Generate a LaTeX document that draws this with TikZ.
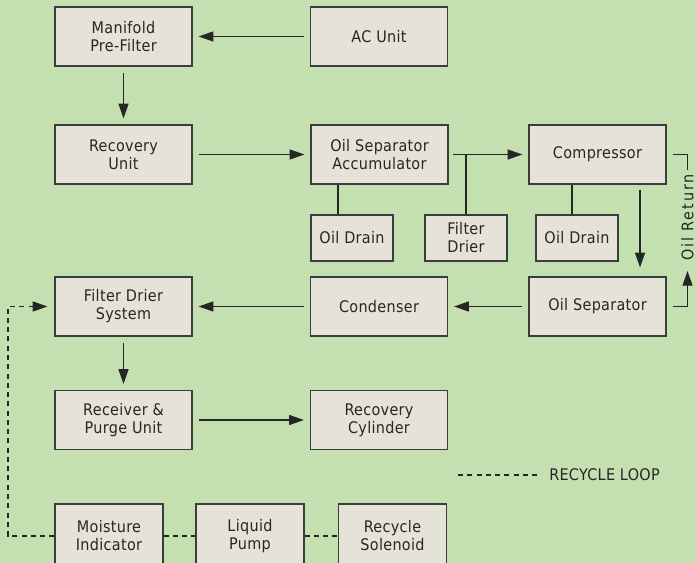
\documentclass[tikz,border=0pt]{standalone}
\usepackage{fontspec}
\setmainfont{DejaVu Sans Condensed}[LetterSpace=2]
\usetikzlibrary{arrows.meta}
\definecolor{bg}{HTML}{C5E0B0}
\definecolor{boxfill}{HTML}{E5E3D8}
\definecolor{ink}{HTML}{262626}
\begin{document}
\begin{tikzpicture}[x=0.75pt,y=-0.75pt,
  box/.style={draw=ink!90, fill=boxfill, line width=0.9pt, inner sep=0pt, align=center, text=ink, font=\fontsize{12}{13.5}\selectfont},
  big/.style={box, minimum width=102.75pt, minimum height=44.25pt},
  small/.style={box, minimum width=61.5pt, minimum height=34.5pt},
  low/.style={box, minimum width=81pt, minimum height=48pt},
  flow/.style={draw=ink, line width=0.9pt, -{Triangle[length=11pt,width=7.5pt]}, shorten <=4.5pt, shorten >=4.5pt},
  link/.style={draw=ink, line width=0.9pt},
  loop/.style={draw=ink, line width=0.9pt, dash pattern=on 3.75pt off 3.2pt},
  lbl/.style={text=ink, inner sep=0pt, font=\fontsize{12}{13.5}\selectfont}]
\clip (0,0) rectangle (696,563);
\fill[bg] (0,0) rectangle (696,563);

% row 1
\node[big] (mpf) at (123.5,36.5) {Manifold\\Pre-Filter};
\node[big] (ac) at (379,36.5) {AC Unit};
% row 2
\node[big] (ru) at (123.5,154.5) {Recovery\\Unit};
\node[big] (osa) at (379.5,154.5) {Oil Separator\\Accumulator};
\node[big] (comp) at (597.5,154.5) {Compressor};
% row 3
\node[small] (od1) at (352,238) {Oil Drain};
\node[small] (fd) at (466,238) {Filter\\Drier};
\node[small] (od2) at (577,238) {Oil Drain};
% row 4
\node[big] (fds) at (123.5,306.5) {Filter Drier\\System};
\node[big] (cond) at (379,306.5) {Condenser};
\node[big] (os) at (597.5,306.5) {Oil Separator};
% row 5
\node[big] (rpu) at (123.5,420) {Receiver \&\\Purge Unit};
\node[big] (rc) at (379,420) {Recovery\\Cylinder};
% row 6
\node[low] (mi) at (109,536) {Moisture\\Indicator};
\node[low] (lp) at (250,536) {Liquid\\Pump};
\node[low] (rs) at (392.5,536) {Recycle\\Solenoid};

% main flow
\draw[flow] (ac) -- (mpf);
\draw[flow] (mpf) -- (ru);
\draw[flow] (ru) -- (osa);
\draw[flow, shorten <=3pt] (osa.east) -- (comp.west);
\draw[flow, shorten >=6.75pt, shorten <=3.75pt] ([xshift=31.9pt]comp.south) -- ([xshift=31.9pt]os.north);
\draw[flow] (os) -- (cond);
\draw[flow] (cond) -- (fds);
\draw[flow] (fds) -- (rpu);
\draw[flow] (rpu) -- (rc);

% side links
\draw[link] (fd.north) -- (fd.north |- osa.east);
\draw[link] ([xshift=-10.5pt]od1.north) -- ([xshift=-10.5pt]od1.north |- osa.south);
\draw[link] ([xshift=-3.75pt]od2.north) -- ([xshift=-3.75pt]od2.north |- comp.south);

% oil return
\node[lbl, rotate=90, font=\fontsize{12}{13.5}\selectfont\addfontfeature{LetterSpace=12}] (orl) at (687.5,217.5) {Oil Return};
\coordinate (ortop) at (687.5,170);
\coordinate (orbot) at (687.5,271);
\draw[link, shorten <=4.5pt] (comp.east) -| (ortop);
\draw[link, -{Triangle[length=11pt,width=7.5pt]}, shorten <=4.5pt] (os.east) -| (orbot);

% recycle loop
\coordinate (lc1) at (8,536);
\coordinate (lc2) at (8,306.5);
\draw[loop, -{Triangle[length=11pt,width=7.5pt]}, shorten >=5.25pt] (mi.west) -- (lc1) -- (lc2) -- (fds.west);
\draw[loop] (mi.east) -- (lp.west);
\draw[loop] (lp.east) -- (rs.west);

% legend
\node[lbl, anchor=west] (leg) at (549,475) {RECYCLE LOOP};
\coordinate (legstart) at (458,475);
\draw[loop, shorten >=6.75pt] (legstart) -- (leg.west);
\end{tikzpicture}
\end{document}
